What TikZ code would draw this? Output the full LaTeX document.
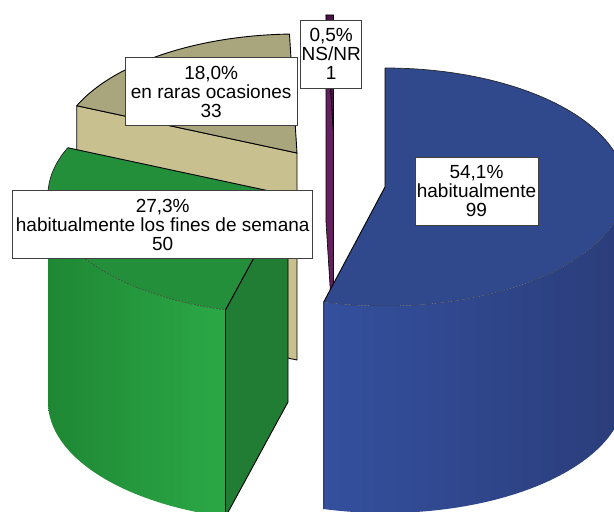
\documentclass[tikz,border=0pt]{standalone}
\usepackage{fontspec}
\setmainfont{Liberation Sans}
\definecolor{bluetop}{HTML}{30498D}
\definecolor{bluewallL}{HTML}{34509E}
\definecolor{bluewallM}{HTML}{3A55A3}
\definecolor{bluewallR}{HTML}{2B3D7A}
\definecolor{greentop}{HTML}{238F3A}
\definecolor{greenwallL}{HTML}{1F8734}
\definecolor{greenwallR}{HTML}{2BA946}
\definecolor{greencut}{HTML}{207D33}
\definecolor{tantop}{HTML}{A9A57C}
\definecolor{tancut}{HTML}{C8C18F}
\definecolor{purpletop}{HTML}{4A1446}
\definecolor{purplecut}{HTML}{64205E}
\tikzset{
  edge/.style={draw=black, line width=0.9pt, line join=round},
  thinedge/.style={draw=black, line width=0.6pt, line join=round},
  rim/.style={draw=black!75, line width=0.5pt, dash pattern=on 2pt off 1.2pt},
  outerrim/.style={draw=black!85, line width=0.7pt},
  ell/.style={x radius=240, y radius=119},
  lbl/.style={draw=black!75, line width=0.8pt, fill=white, align=center, inner sep=0pt,
    minimum height=68pt, font=\fontsize{19}{19}\selectfont},
}
\begin{document}
\begin{tikzpicture}[x=1pt,y=1pt]
\useasboundingbox (0,0) rectangle (614,512);
\fill[white] (0,0) rectangle (614,512);
\begin{scope}
\clip (0,0) rectangle (614,512);
% ---------- tan slice: en raras ocasiones ----------
\coordinate (T) at (297,359);
\path (T) ++(156.6:240 and 119) coordinate (Ta);
\path (T) ++(91.8:240 and 119) coordinate (Tc);
\path[fill=tancut, edge] (T) -- (Ta) -- ([yshift=-207pt]Ta) -- ([yshift=-207pt]T) -- cycle;
\path[fill=tantop, edge] (T) -- (Tc) arc[start angle=91.8, end angle=156.6, ell] -- cycle;
% ---------- purple slice: NS/NR ----------
\coordinate (P) at (333.5,378);
\coordinate (Pt) at (333.5,497);
\coordinate (Po) at (326,497);
\path[fill=purplecut, thinedge] (P) -- (Po) -- ([yshift=-207pt]Po) -- ([yshift=-207pt]P) -- cycle;
\path[fill=purpletop, thinedge] (P) -- (Po) -- (Pt) -- cycle;
% ---------- green slice: fines de semana ----------
\coordinate (G) at (288,317);
\path (G) ++(156.6:240 and 119) coordinate (Ga);
\path (G) ++(254.9:240 and 119) coordinate (Gb);
\path (G) ++(180:240 and 119) coordinate (Gl);
\shade[left color=greenwallL, right color=greenwallR]
  (Gl) arc[start angle=180, end angle=254.9, ell] -- ([yshift=-207pt]Gb)
  arc[start angle=254.9, end angle=180, ell] -- cycle;
\path[fill=greencut, edge] (G) -- (Gb) -- ([yshift=-207pt]Gb) -- ([yshift=-207pt]G) -- cycle;
\path[fill=greentop] (G) -- (Ga) arc[start angle=156.6, end angle=254.9, ell] -- cycle;
\draw[outerrim] (Ga) arc[start angle=156.6, end angle=180, ell];
\draw[rim] (Gl) arc[start angle=180, end angle=254.9, ell];
\draw[edge] (Ga) -- (G) -- (Gb);
% ---------- blue slice: habitualmente ----------
\coordinate (B) at (385,325);
\path (B) ++(90:240 and 119) coordinate (Bt);
\path (B) ++(-104.8:240 and 119) coordinate (Bb);
\path (B) ++(0:240 and 119) coordinate (Br);
\shade[left color=bluewallL, middle color=bluewallM, right color=bluewallR]
  (Br) arc[start angle=0, end angle=-104.8, ell] -- ([yshift=-207pt]Bb)
  arc[start angle=-104.8, end angle=0, ell] -- cycle;
\path[fill=bluetop] (B) -- (Bt) arc[start angle=90, end angle=-104.8, ell] -- cycle;
\draw[outerrim] (Bt) arc[start angle=90, end angle=0, ell];
\draw[rim] (Br) arc[start angle=0, end angle=-104.8, ell];
\draw[edge] (Bt) -- (B) -- (Bb) -- ([yshift=-207pt]Bb);
\end{scope}
% ---------- labels ----------
\node[lbl, minimum width=61pt] (lblNS) at (331.2,457.8) {0,5\%\\NS/NR\\1};
\node[lbl, minimum width=172pt] (lblRaras) at (211.2,420.2) {18,0\%\\en raras ocasiones\\33};
\node[lbl, minimum width=300pt] (lblFines) at (162.7,287.2) {27,3\%\\habitualmente los fines de semana\\50};
\node[lbl, minimum width=123pt] (lblHab) at (476.5,321) {54,1\%\\habitualmente\\99};
\end{tikzpicture}
\end{document}
